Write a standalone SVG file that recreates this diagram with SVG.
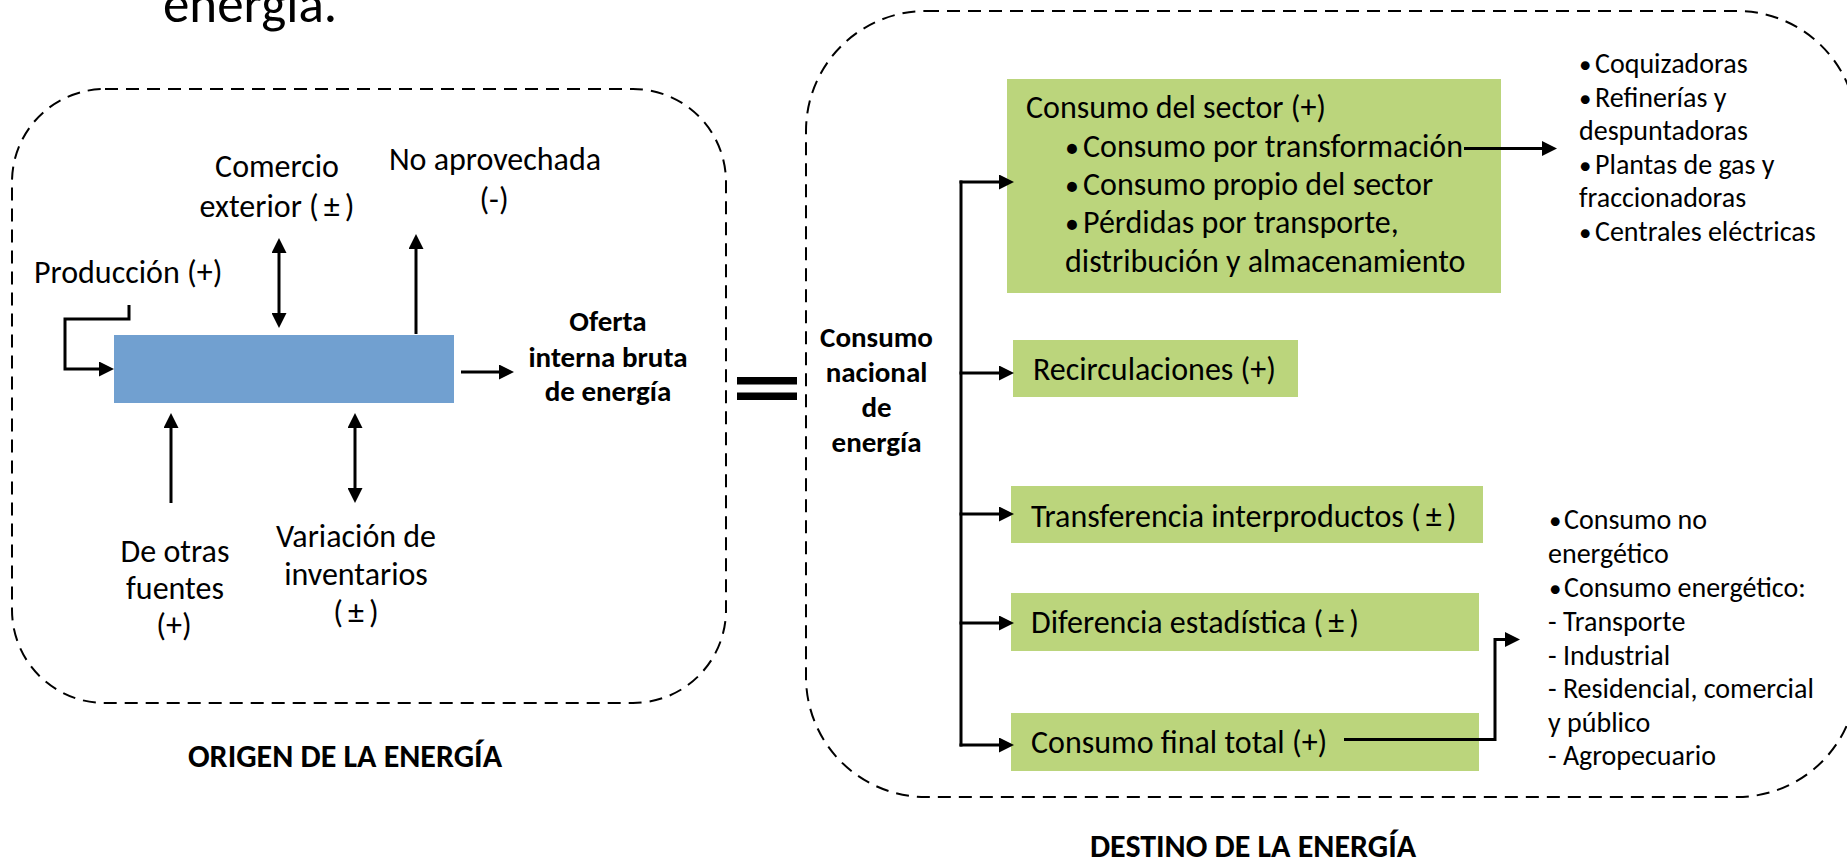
<svg xmlns="http://www.w3.org/2000/svg" width="1847" height="861" viewBox="0 0 1847 861">
<defs>
<style>
text{font-family:Carlito,Lato,"Liberation Sans",sans-serif;fill:#000}
.t{font-size:32px}
.s{font-size:28px}
.b{font-size:29px;font-weight:bold}
.c{text-anchor:middle}
.bt{font-size:28px}
.bs{font-size:25px}
.frame{fill:none;stroke:#000;stroke-width:2;stroke-dasharray:13 8}
.green{fill:#BBD57C}
.blue{fill:#71A0D0}
.ln{fill:none;stroke:#000;stroke-width:3}
</style>
<marker id="ah" viewBox="0 0 15 15" refX="1" refY="7.5" markerWidth="15" markerHeight="15" markerUnits="userSpaceOnUse" orient="auto-start-reverse">
<path d="M0,0 L15,7.5 L0,15 z" fill="#000"/>
</marker>
</defs>
<rect width="1847" height="861" fill="#fff"/>
<text x="163" y="22" style="font-size:53px">energía.</text>

<g id="origen-frame"><rect class="frame" x="12" y="89" width="714" height="614" rx="93" ry="93"/></g>
<g id="destino-frame"><rect class="frame" x="806" y="11" width="1051" height="786" rx="120" ry="120"/></g>

<g id="equals"><rect x="737" y="377" width="60" height="7.5"/><rect x="737" y="392.5" width="60" height="7.5"/></g>

<g id="oferta-box"><rect class="blue" x="114" y="335" width="340" height="68"/></g>
<g id="comercio"><text class="t c" x="277" y="177">Comercio</text><text class="t c" x="277" y="217">exterior (<tspan dx="5">±</tspan><tspan dx="5">)</tspan></text></g>
<g id="no-aprovechada"><text class="t c" x="495" y="170">No aprovechada</text><text class="t c" x="494" y="210">(-)</text></g>
<g id="produccion"><text class="t" x="34" y="283">Producción (+)</text></g>
<g id="oferta"><text class="b c" x="608" y="331">Oferta</text><text class="b c" x="608" y="367">interna bruta</text><text class="b c" x="608" y="401">de energía</text></g>
<g id="otras-fuentes"><text class="t c" x="175" y="562">De otras</text><text class="t c" x="175" y="599">fuentes</text><text class="t c" x="174" y="636">(+)</text></g>
<g id="variacion"><text class="t c" x="356" y="547">Variación de</text><text class="t c" x="356" y="585">inventarios</text><text class="t c" x="356" y="623">(<tspan dx="5">±</tspan><tspan dx="5">)</tspan></text></g>
<g id="origen-title"><text class="b c" x="345" y="767" style="font-size:32px">ORIGEN DE LA ENERGÍA</text></g>

<g id="consumo-nacional"><text class="b c" x="876.5" y="347">Consumo</text><text class="b c" x="876.5" y="382">nacional</text><text class="b c" x="876.5" y="417">de</text><text class="b c" x="876.5" y="452">energía</text></g>

<g id="consumo-sector"><rect class="green" x="1007" y="79" width="494" height="214"/>
<text class="t" x="1026" y="118">Consumo del sector (+)</text>
<text class="t" x="1065" y="157"><tspan class="bt">• </tspan><tspan x="1083">Consumo por transformación</tspan></text>
<text class="t" x="1065" y="195"><tspan class="bt">• </tspan><tspan x="1083">Consumo propio del sector</tspan></text>
<text class="t" x="1065" y="233"><tspan class="bt">• </tspan><tspan x="1083">Pérdidas por transporte,</tspan></text>
<text class="t" x="1065" y="272">distribución y almacenamiento</text></g>
<g id="recirculaciones"><rect class="green" x="1013" y="340" width="285" height="57"/><text class="t" x="1033" y="380">Recirculaciones (+)</text></g>
<g id="transferencia"><rect class="green" x="1011" y="486" width="472" height="57"/><text class="t" x="1031" y="527">Transferencia interproductos (<tspan dx="5">±</tspan><tspan dx="5">)</tspan></text></g>
<g id="diferencia"><rect class="green" x="1011" y="593" width="468" height="58"/><text class="t" x="1031" y="633">Diferencia estadística (<tspan dx="5">±</tspan><tspan dx="5">)</tspan></text></g>
<g id="consumo-final"><rect class="green" x="1011" y="713" width="468" height="58"/><text class="t" x="1031" y="753">Consumo final total (+)</text></g>

<g id="transformacion-list">
<text class="s" x="1579" y="73"><tspan class="bs">• </tspan><tspan x="1595">Coquizadoras</tspan></text>
<text class="s" x="1579" y="107"><tspan class="bs">• </tspan><tspan x="1595">Refinerías y</tspan></text>
<text class="s" x="1579" y="140">despuntadoras</text>
<text class="s" x="1579" y="174"><tspan class="bs">• </tspan><tspan x="1595">Plantas de gas y</tspan></text>
<text class="s" x="1579" y="207">fraccionadoras</text>
<text class="s" x="1579" y="241"><tspan class="bs">• </tspan><tspan x="1595">Centrales eléctricas</tspan></text>
</g>
<g id="final-list">
<text class="s" x="1549" y="529"><tspan class="bs">• </tspan><tspan x="1564">Consumo no</tspan></text>
<text class="s" x="1548" y="563">energético</text>
<text class="s" x="1549" y="597"><tspan class="bs">• </tspan><tspan x="1564">Consumo energético:</tspan></text>
<text class="s" x="1548" y="631">- Transporte</text>
<text class="s" x="1548" y="665">- Industrial</text>
<text class="s" x="1548" y="698">- Residencial, comercial</text>
<text class="s" x="1548" y="732">y público</text>
<text class="s" x="1548" y="765">- Agropecuario</text>
</g>
<g id="destino-title"><text class="b c" x="1253" y="857" style="font-size:32px">DESTINO DE LA ENERGÍA</text></g>

<g id="connectors">
<line class="ln" x1="279" y1="252" x2="279" y2="314" marker-start="url(#ah)" marker-end="url(#ah)"/>
<line class="ln" x1="416" y1="334" x2="416" y2="248" marker-end="url(#ah)"/>
<path class="ln" d="M129,305 V319 H65 V369 H100" marker-end="url(#ah)"/>
<line class="ln" x1="461" y1="372" x2="500" y2="372" marker-end="url(#ah)"/>
<line class="ln" x1="171" y1="503" x2="171" y2="427" marker-end="url(#ah)"/>
<line class="ln" x1="355" y1="427" x2="355" y2="489" marker-start="url(#ah)" marker-end="url(#ah)"/>
<line class="ln" x1="961" y1="180.5" x2="961" y2="746.5"/>
<line class="ln" x1="959.5" y1="182" x2="1000" y2="182" marker-end="url(#ah)"/>
<line class="ln" x1="959.5" y1="373" x2="1000" y2="373" marker-end="url(#ah)"/>
<line class="ln" x1="959.5" y1="514" x2="1000" y2="514" marker-end="url(#ah)"/>
<line class="ln" x1="959.5" y1="623" x2="1000" y2="623" marker-end="url(#ah)"/>
<line class="ln" x1="959.5" y1="745" x2="1000" y2="745" marker-end="url(#ah)"/>
<line class="ln" x1="1464" y1="148.5" x2="1543" y2="148.5" marker-end="url(#ah)"/>
<path class="ln" d="M1344,739.5 H1495 V639.5 H1506" marker-end="url(#ah)"/>
</g>
</svg>
